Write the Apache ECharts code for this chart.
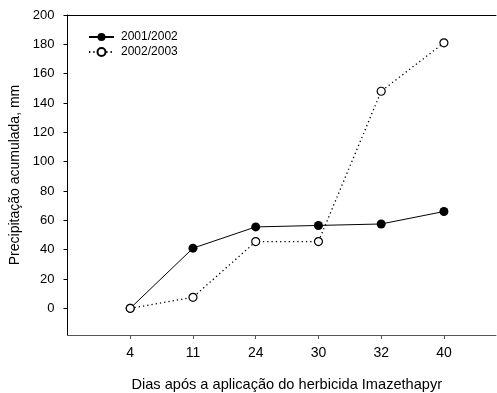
<!DOCTYPE html>
<html>
<head>
<meta charset="utf-8">
<script src="https://cdn.jsdelivr.net/npm/echarts@6/dist/echarts.min.js"></script>
<style>
  html, body { margin: 0; padding: 0; background: #fff; }
  #chart { width: 497px; height: 393px; }
</style>
</head>
<body>
<div id="chart"></div>
<script>
  // dias apos a aplicacao
  var days = ['4', '11', '24', '30', '32', '40'];
  var serie2001 = [0, 41, 55.5, 56.5, 57.5, 66];
  var serie2002 = [0, 7.5, 45.5, 45.5, 148, 181];
  var yTicks = [0, 20, 40, 60, 80, 100, 120, 140, 160, 180, 200];
  var xTicks = [1, 2, 3, 4, 5, 6];

  var font = 'Liberation Sans, Arial, sans-serif';

  function toPairs(arr) {
    return arr.map(function (v, i) { return [i + 1, v]; });
  }

  var mychart = echarts.init(document.getElementById('chart'));
  var option = {
    animation: false,
    grid: {
      left: 67.5,
      right: 1,
      top: 15,
      bottom: 58,
      containLabel: false,
      outerBoundsMode: 'none'
    },
    legend: {
      orient: 'vertical',
      left: 83,
      top: 26,
      itemWidth: 25,
      itemHeight: 10,
      itemGap: 3,
      textStyle: {
        color: '#000',
        fontFamily: font,
        fontSize: 12,
        padding: [0, 0, 0, 2]
      },
      data: ['2001/2002', '2002/2003']
    },
    xAxis: [
      {
        type: 'value',
        min: 0,
        max: 6.83,
        name: 'Dias após a aplicação do herbicida Imazethapyr',
        nameLocation: 'middle',
        nameGap: 42,
        nameTextStyle: {
          color: '#000',
          fontFamily: font,
          fontSize: 14.6,
          padding: [0, 0, 0, 10]
        },
        axisLine: {
          show: true,
          onZero: false,
          lineStyle: { color: '#555', width: 1 }
        },
        axisTick: {
          show: true,
          length: 4,
          customValues: xTicks,
          lineStyle: { color: '#555' }
        },
        axisLabel: {
          customValues: xTicks,
          margin: 11,
          color: '#000',
          fontFamily: font,
          fontSize: 14,
          formatter: function (v) {
            return days[Math.round(v) - 1] || '';
          }
        },
        splitLine: { show: false }
      },
      {
        type: 'value',
        position: 'top',
        min: 0,
        max: 6.83,
        axisLine: {
          show: true,
          onZero: false,
          lineStyle: { color: '#000', width: 1 }
        },
        axisTick: { show: false },
        axisLabel: { show: false },
        splitLine: { show: false }
      }
    ],
    yAxis: {
      type: 'value',
      min: -18.2,
      max: 200,
      name: 'Precipitação acumulada, mm',
      nameLocation: 'middle',
      nameGap: 39,
      nameTextStyle: {
        color: '#000',
        fontFamily: font,
        fontSize: 14
      },
      axisLine: {
        show: true,
        onZero: false,
        lineStyle: { color: '#000', width: 1 }
      },
      axisTick: {
        show: true,
        length: 4,
        customValues: yTicks,
        lineStyle: { color: '#000' }
      },
      axisLabel: {
        customValues: yTicks,
        margin: 13,
        color: '#000',
        fontFamily: font,
        fontSize: 13
      },
      splitLine: { show: false }
    },
    series: [
      {
        name: '2001/2002',
        type: 'line',
        data: toPairs(serie2001),
        symbol: 'circle',
        symbolSize: 9,
        lineStyle: { color: '#000', width: 1, type: 'solid' },
        itemStyle: { color: '#000', borderColor: '#000', borderWidth: 0 },
        z: 3
      },
      {
        name: '2002/2003',
        type: 'line',
        data: toPairs(serie2002),
        symbol: 'circle',
        symbolSize: 8,
        showAllSymbol: true,
        lineStyle: { color: '#000', width: 1.3, type: [1.3, 3] },
        itemStyle: { color: '#fff', borderColor: '#000', borderWidth: 1.2 },
        z: 4
      }
    ]
  };

  mychart.setOption(option);
</script>
</body>
</html>
